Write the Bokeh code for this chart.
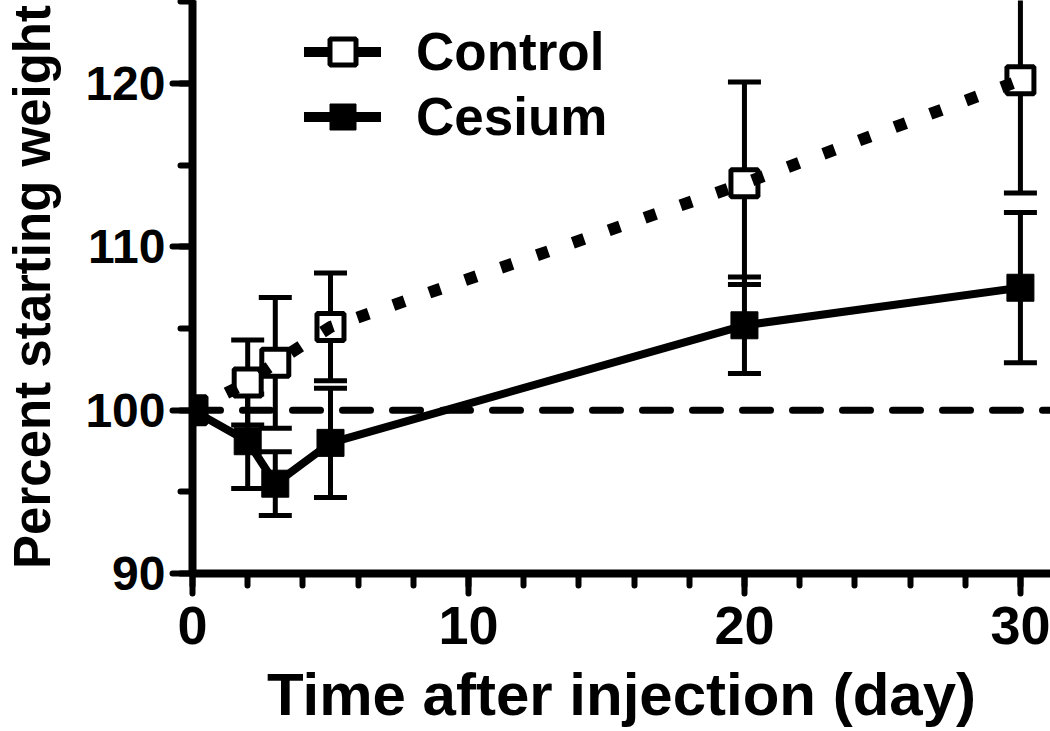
from bokeh.plotting import figure
from bokeh.models import (ColumnDataSource, Whisker, TeeHead, Span, Legend,
                          LegendItem, SingleIntervalTicker, Range1d)
from bokeh.embed import file_html
from bokeh.resources import INLINE

# ---- data ----
time = [0, 2, 3, 5, 20, 30]
control_mean = [100.0, 101.7, 102.9, 105.1, 113.9, 120.2]
control_err = [0.0, 2.6, 4.0, 3.3, 6.2, 6.9]
cesium_mean = [100.0, 98.1, 95.5, 98.0, 105.2, 107.5]
cesium_err = [0.0, 2.9, 1.95, 3.35, 2.95, 4.6]
reference_level = 100
x_ticks_interval = 10
y_ticks_interval = 10
series_labels = ["Control", "Cesium"]
x_title = "Time after injection (day)"
y_title = "Percent starting weight"

FONT = "Liberation Sans"

p = figure(width=1050, height=731,
           x_range=Range1d(0, 31.09), y_range=Range1d(90, 125.09),
           output_backend="svg", toolbar_location=None,
           min_border_left=192, min_border_right=0,
           min_border_top=0, min_border_bottom=158)
p.outline_line_color = None
p.xgrid.visible = False
p.ygrid.visible = False
p.background_fill_color = "white"
p.border_fill_color = "white"


def whisker_source(xs, means, errs):
    d = dict(x=[], upper=[], lower=[])
    for x, m, e in zip(xs, means, errs):
        if e > 0:
            d["x"].append(x)
            d["upper"].append(m + e)
            d["lower"].append(m - e)
    return ColumnDataSource(d)


for means, errs in ((control_mean, control_err), (cesium_mean, cesium_err)):
    w = Whisker(source=whisker_source(time, means, errs), base="x",
                upper="upper", lower="lower", dimension="height",
                line_width=5, line_color="black",
                upper_head=TeeHead(size=33, line_width=5, line_color="black"),
                lower_head=TeeHead(size=33, line_width=5, line_color="black"),
                level="underlay")
    p.add_layout(w)

span = Span(location=reference_level, dimension="width", line_color="black",
            line_width=7, line_dash="28 22", line_cap="round", level="underlay")
p.add_layout(span)

ctrl_sq = p.scatter(time, control_mean, marker="square", size=27,
                    fill_color="white", line_color="black", line_width=5)
ces_sq = p.scatter(time, cesium_mean, marker="square", size=27,
                   fill_color="black", line_color="black", line_width=1)
p.line(time, control_mean, line_color="black", line_width=12,
       line_dash="12 26", line_cap="butt")
p.line(time, cesium_mean, line_color="black", line_width=8)

# legend-only line glyphs (solid, like the reference key); no visible data
nan = float("nan")
ctrl_leg_line = p.line([nan], [nan], line_color="black", line_width=10, line_cap="round")
ces_leg_line = p.line([nan], [nan], line_color="black", line_width=10, line_cap="round")

legend = Legend(items=[LegendItem(label=series_labels[0], renderers=[ctrl_leg_line, ctrl_sq]),
                       LegendItem(label=series_labels[1], renderers=[ces_leg_line, ces_sq])],
                location=(112, 424), glyph_width=77, glyph_height=65,
                label_standoff=35, spacing=0, padding=0, margin=0,
                border_line_color=None, background_fill_alpha=0,
                label_text_font=FONT, label_text_font_style="bold",
                label_text_font_size="53px", label_text_color="black")
p.add_layout(legend)

p.xaxis.ticker = SingleIntervalTicker(interval=x_ticks_interval, num_minor_ticks=5)
p.yaxis.ticker = SingleIntervalTicker(interval=y_ticks_interval, num_minor_ticks=2)

for ax in (p.xaxis[0], p.yaxis[0]):
    ax.axis_line_width = 8
    ax.axis_line_color = "black"
    ax.major_tick_line_width = 6
    ax.minor_tick_line_width = 6
    ax.major_tick_line_color = "black"
    ax.minor_tick_line_color = "black"
    ax.major_tick_line_cap = "round"
    ax.minor_tick_line_cap = "round"
    ax.major_tick_in = 0
    ax.minor_tick_in = 0
    ax.major_tick_out = 20
    ax.minor_tick_out = 12
    ax.major_label_text_font = FONT
    ax.major_label_text_font_style = "bold"
    ax.major_label_text_color = "black"
    ax.axis_label_text_font = FONT
    ax.axis_label_text_font_style = "bold"
    ax.axis_label_text_color = "black"

p.xaxis.axis_label = x_title
p.xaxis.axis_label_text_font_size = "60px"
p.xaxis.major_label_text_font_size = "54px"
p.xaxis.major_label_standoff = 13
p.xaxis.axis_label_standoff = 14

p.yaxis.axis_label = y_title
p.yaxis.axis_label_text_font_size = "51px"
p.yaxis.major_label_text_font_size = "48px"
p.yaxis.major_label_standoff = 7
p.yaxis.axis_label_standoff = 21

open("out.html", "w").write(file_html(p, INLINE))
